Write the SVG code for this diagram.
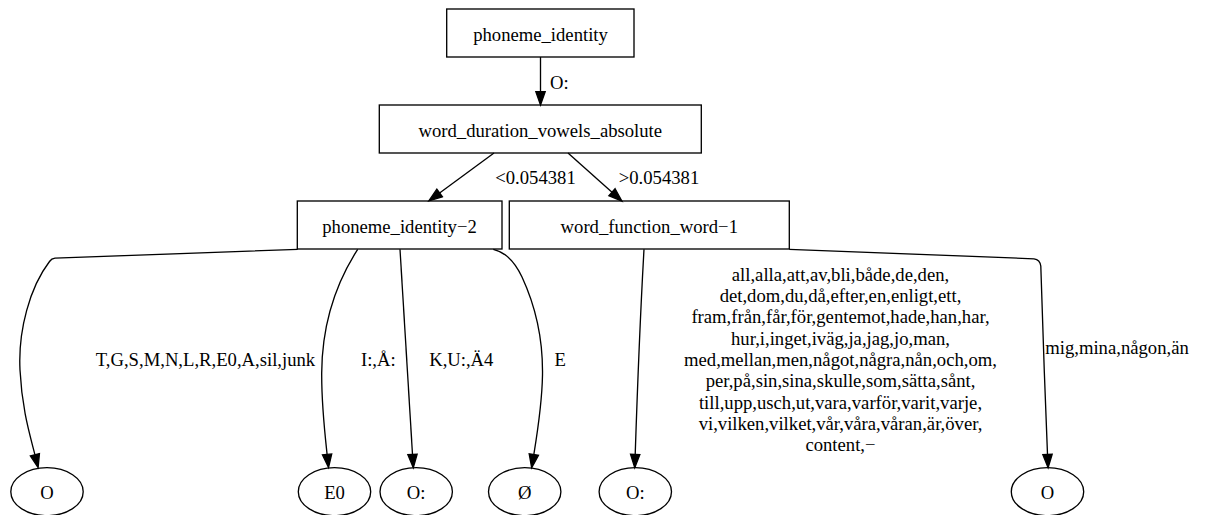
<svg xmlns="http://www.w3.org/2000/svg" width="1216" height="515" viewBox="0 0 1216 515">
  <style>
    .node rect, .node ellipse { fill: none; stroke: #000; stroke-width: 1.33; }
    .edge { fill: none; stroke: #000; stroke-width: 1.33; marker-end: url(#arrow); }
    text { font-family: "Liberation Serif", "Times New Roman", serif; font-size: 18.67px; fill: #000; }
    .c { text-anchor: middle; }
  </style>
  <defs>
    <marker id="arrow" markerUnits="userSpaceOnUse" orient="auto" refX="0" refY="0" markerWidth="16" markerHeight="12" viewBox="0 -6 16 12" overflow="visible">
      <path d="M0,-4.67 L13.3,0 L0,4.67 Z" fill="#000" stroke="#000" stroke-width="1.33"/>
    </marker>
  </defs>
  <rect width="1216" height="515" fill="#fff"/>

  <!-- connectors -->
  <g id="edges">
    <path class="edge" d="M540.5,57 L540.5,91.7"/>
    <path class="edge" d="M494,153 L439.6,193"/>
    <path class="edge" d="M568,153 L612,192.2"/>
    <path class="edge" d="M297.7,249.3 L55,258.2 Q51.5,258.6 49.5,261.5 C30,287 18,330 20,370 C22,410 30,435 34.9,454.7"/>
    <path class="edge" d="M357.7,249.3 C338,280 322,320 321.7,373 C321.5,405 325,435 327.1,454.4"/>
    <path class="edge" d="M400,249.3 L412.5,454.4"/>
    <path class="edge" d="M493.3,249.3 C505,252 515,262 522,277 C535,305 543,340 542.5,375 C542,405 537,435 533.8,454.6"/>
    <path class="edge" d="M644,249.3 C640,320 637,400 635.2,454.4"/>
    <path class="edge" d="M789.3,249.3 L1034,258.8 Q1040,259.5 1040.8,266 C1042,300 1045,400 1047.5,454.4"/>

    <text x="550" y="89">O:</text>
    <text class="c" x="535.5" y="184.3">&lt;0.054381</text>
    <text class="c" x="659" y="184.3">&gt;0.054381</text>
    <text class="c" x="205.5" y="365.7">T,G,S,M,N,L,R,E0,A,sil,junk</text>
    <text class="c" x="378.3" y="365.7">I:,Å:</text>
    <text class="c" x="461.3" y="365.7">K,U:,Ä4</text>
    <text class="c" x="560.3" y="365.7">E</text>
    <text class="c" x="840.5" y="280.7">all,alla,att,av,bli,både,de,den,</text>
    <text class="c" x="840.5" y="302">det,dom,du,då,efter,en,enligt,ett,</text>
    <text class="c" x="840.5" y="323.3">fram,från,får,för,gentemot,hade,han,har,</text>
    <text class="c" x="840.5" y="344.6">hur,i,inget,iväg,ja,jag,jo,man,</text>
    <text class="c" x="840.5" y="365.9">med,mellan,men,något,några,nån,och,om,</text>
    <text class="c" x="840.5" y="387.2">per,på,sin,sina,skulle,som,sätta,sånt,</text>
    <text class="c" x="840.5" y="408.5">till,upp,usch,ut,vara,varför,varit,varje,</text>
    <text class="c" x="840.5" y="429.8">vi,vilken,vilket,vår,våra,våran,är,över,</text>
    <text class="c" x="840.5" y="451.1">content,−</text>
    <text class="c" x="1117" y="354.3">mig,mina,någon,än</text>
  </g>

  <!-- decision nodes -->
  <g id="phoneme_identity" class="node">
    <rect x="446.7" y="9" width="187.3" height="48"/>
    <text class="c" x="540.5" y="40.5">phoneme_identity</text>
  </g>
  <g id="word_duration_vowels_absolute" class="node">
    <rect x="379.3" y="105" width="322" height="48"/>
    <text class="c" x="540.3" y="136.5">word_duration_vowels_absolute</text>
  </g>
  <g id="phoneme_identity_2" class="node">
    <rect x="297.3" y="201" width="204.7" height="48"/>
    <text class="c" x="399.5" y="232.7">phoneme_identity−2</text>
  </g>
  <g id="word_function_word_1" class="node">
    <rect x="509.3" y="201" width="280" height="48"/>
    <text class="c" x="649.3" y="232.7">word_function_word−1</text>
  </g>

  <!-- leaf nodes -->
  <g id="leaf_O_1" class="node">
    <ellipse cx="47" cy="491.7" rx="36.2" ry="24"/>
    <text class="c" x="47" y="499">O</text>
  </g>
  <g id="leaf_E0" class="node">
    <ellipse cx="334.5" cy="491.7" rx="36.2" ry="24"/>
    <text class="c" x="334.5" y="499">E0</text>
  </g>
  <g id="leaf_O_colon_1" class="node">
    <ellipse cx="416.2" cy="491.7" rx="36.2" ry="24"/>
    <text class="c" x="416.2" y="499">O:</text>
  </g>
  <g id="leaf_OE" class="node">
    <ellipse cx="524.7" cy="491.7" rx="36.2" ry="24"/>
    <text class="c" x="524.7" y="499">Ø</text>
  </g>
  <g id="leaf_O_colon_2" class="node">
    <ellipse cx="635.3" cy="491.7" rx="36.2" ry="24"/>
    <text class="c" x="635.3" y="499">O:</text>
  </g>
  <g id="leaf_O_2" class="node">
    <ellipse cx="1047.5" cy="491.7" rx="36.2" ry="24"/>
    <text class="c" x="1047.5" y="499">O</text>
  </g>
</svg>
